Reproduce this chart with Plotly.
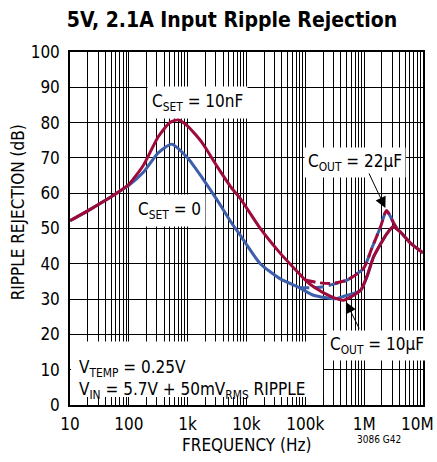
import plotly.graph_objects as go

# Ripple rejection (dB) versus ripple frequency (Hz)
# CSET = 10nF, COUT = 10uF
freq_cset10n = [10, 20, 40, 62, 100, 178, 316, 500, 690, 1000, 1780, 3160, 5620,
                7760, 17000, 37000, 77600, 100000, 138000, 270000, 450000, 870000,
                1120000, 1450000, 2450000, 3100000, 4070000, 6200000, 10000000]
rej_cset10n = [52.2, 55.0, 58.0, 60.0, 62.5, 68.0, 76.0, 80.0, 80.8, 79.0, 74.2, 67.6, 61.4,
               58.6, 50.1, 43.1, 37.3, 35.4, 33.5, 30.8, 29.7, 32.5,
               36.5, 42.0, 48.6, 50.5, 49.1, 45.8, 43.1]

# CSET = 0, COUT = 10uF
freq_cset0 = [10, 20, 40, 62, 100, 178, 316, 537, 1000, 1780, 3160, 5620,
              7760, 17000, 37000, 77600, 138000, 324000, 450000, 870000,
              1120000, 1450000, 2450000, 3100000, 4070000, 6200000, 10000000]
rej_cset0 = [52.2, 55.0, 58.0, 60.0, 62.2, 66.0, 71.4, 73.9, 70.0, 64.3, 58.1, 51.5,
             48.2, 40.1, 35.8, 33.3, 31.1, 30.1, 30.8, 32.5,
             36.5, 42.0, 48.6, 50.5, 49.1, 45.8, 43.1]

# COUT = 22uF branches (where they differ from the 10uF curves)
freq_cset10n_22u = [100000, 158000, 270000, 513000, 977000, 1350000, 1900000,
                    2400000, 3160000, 3630000]
rej_cset10n_22u = [35.4, 34.7, 34.4, 35.4, 38.7, 44.4, 50.5,
                   55.1, 51.6, 49.9]

freq_cset0_22u = [77600, 126000, 204000, 316000, 513000, 977000, 1350000, 1900000,
                  2400000, 3160000, 3630000]
rej_cset0_22u = [33.3, 33.2, 33.5, 34.3, 35.4, 38.7, 44.4, 50.5,
                 55.1, 51.6, 49.9]

decade_vals = [10, 100, 1000, 10000, 100000, 1000000, 10000000]
decade_labels = ["10", "100", "1k", "10k", "100k", "1M", "10M"]

RED = "#9E0B3B"
BLUE = "#3D5EAA"
FONT = "DejaVu Sans Condensed, Liberation Sans Narrow, Arial Narrow, sans-serif"

# minor gridlines at 2..9 x 10^n between the labelled decades
minor_vals = [k * d for d in decade_vals[:-1] for k in range(2, 10)]

fig = go.Figure()
fig.add_trace(go.Scatter(x=freq_cset0, y=rej_cset0, mode="lines",
                         line=dict(color=BLUE, width=3, shape="spline", smoothing=0.6)))
fig.add_trace(go.Scatter(x=freq_cset0_22u, y=rej_cset0_22u, mode="lines",
                         line=dict(color=BLUE, width=3, dash="10px,5px", shape="spline", smoothing=0.6)))
fig.add_trace(go.Scatter(x=freq_cset10n, y=rej_cset10n, mode="lines",
                         line=dict(color=RED, width=3, shape="spline", smoothing=0.6)))
fig.add_trace(go.Scatter(x=freq_cset10n_22u, y=rej_cset10n_22u, mode="lines",
                         line=dict(color=RED, width=3, dash="10px,5px", shape="spline", smoothing=0.6)))


def paper_x(logf):
    return (logf - 1) / 6.0


shapes = [
    # white panel behind the test-condition note
    dict(type="rect", xref="paper", yref="y", x0=0.003, x1=paper_x(5.301), y0=2.3, y1=18.0,
         fillcolor="white", line=dict(width=0), layer="above"),
]

ann_font = dict(family=FONT, size=17, color="black")
arrow_style = dict(text="", showarrow=True, arrowhead=2, arrowsize=2.2, arrowwidth=1,
                   arrowcolor="black", xref="x", yref="y")
annotations = [
    dict(x=3.175, y=85.8, xref="x", yref="y", text="C<sub>SET</sub> = 10nF",
         showarrow=False, bgcolor="white", borderpad=4, font=ann_font),
    dict(x=2.685, y=55.0, xref="x", yref="y", text="C<sub>SET</sub> = 0",
         showarrow=False, bgcolor="white", borderpad=4, font=ann_font),
    dict(x=5.85, y=68.6, xref="x", yref="y", text="C<sub>OUT</sub> = 22µF",
         showarrow=False, bgcolor="white", borderpad=3, font=ann_font),
    dict(x=6.21, y=16.9, xref="x", yref="y", text="C<sub>OUT</sub> = 10µF",
         showarrow=False, bgcolor="white", borderpad=3, font=ann_font),
    dict(x=6.36, y=55.8, ax=-17, ay=-36, **arrow_style),
    dict(x=5.69, y=29.2, ax=14, ay=28, **arrow_style),
    dict(x=0.02, y=7.2, xref="paper", yref="y", xanchor="left", yanchor="middle",
         align="left", showarrow=False, font=ann_font,
         text="V<sub>TEMP</sub> = 0.25V<br>V<sub>IN</sub> = 5.7V + 50mV<sub>RMS</sub> RIPPLE"),
    # last decade label sits flush with the right edge of the figure
    dict(x=1, y=-0.055, xref="paper", yref="paper", xanchor="right", yanchor="middle",
         xshift=13, showarrow=False, text=decade_labels[-1],
         font=dict(family=FONT, size=17, color="black")),
    dict(x=0.5, y=-0.1135, xref="paper", yref="paper", showarrow=False,
         text="FREQUENCY (Hz)", font=dict(family=FONT, size=17, color="black"),
         yanchor="middle"),
    dict(x=-0.148, y=0.545, xref="paper", yref="paper", showarrow=False, textangle=-90,
         text="RIPPLE REJECTION (dB)", font=dict(family=FONT, size=17, color="black"),
         xanchor="center", yanchor="middle"),
    dict(x=0.944, y=-0.12, xref="paper", yref="paper", showarrow=False,
         text="3086 G42", font=dict(family=FONT, size=10, color="black")),
]

fig.update_layout(
    width=437, height=462,
    margin=dict(l=70, r=14, t=52, b=57, autoexpand=False),
    paper_bgcolor="white", plot_bgcolor="white",
    showlegend=False,
    title=dict(text="<b>5V, 2.1A Input Ripple Rejection</b>", x=232 / 437, xref="container",
               xanchor="center", y=(462 - 20) / 462, yref="container", yanchor="middle",
               font=dict(family=FONT, size=21, color="black")),
    shapes=shapes,
    annotations=annotations,
)
fig.update_xaxes(type="log", range=[1, 7], tickvals=decade_vals[:-1], ticktext=decade_labels[:-1],
                 showgrid=True, gridcolor="black", gridwidth=1, automargin=False,
                 minor=dict(tickvals=minor_vals, showgrid=True, gridcolor="black",
                            gridwidth=1, ticks=""),
                 showline=True, linecolor="black", linewidth=1.5, mirror=True,
                 ticks="", ticklabelstandoff=3, ticklabeloverflow="allow", zeroline=False,
                 tickfont=dict(family=FONT, size=17, color="black"))
fig.update_yaxes(range=[0, 100], dtick=10, showgrid=True, gridcolor="black", gridwidth=1,
                 automargin=False,
                 showline=True, linecolor="black", linewidth=1.5, mirror=True,
                 ticks="", ticklabelstandoff=5, zeroline=False,
                 tickfont=dict(family=FONT, size=17, color="black"))

fig.write_html("out.html")
